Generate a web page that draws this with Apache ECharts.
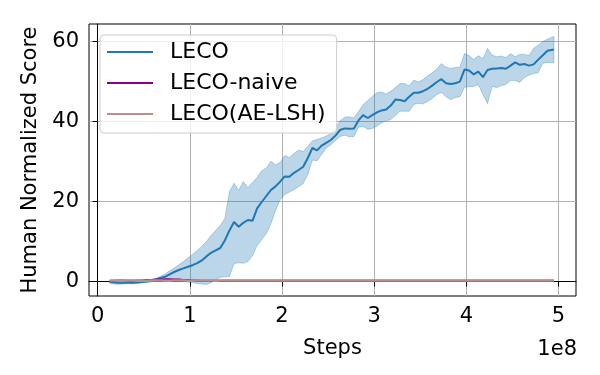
<!DOCTYPE html>
<html>
<head>
<meta charset="utf-8">
<script src="https://cdn.jsdelivr.net/npm/echarts@6/dist/echarts.min.js"></script>
<style>
  html, body { margin: 0; padding: 0; background: #fff; }
  #chart { width: 600px; height: 375px; }
</style>
</head>
<body>
<div id="chart"></div>
<script>
// steps in units of 1e8
const steps = [
  0.13, 0.18, 0.23, 0.28, 0.33, 0.38, 0.43, 0.48, 0.53, 0.58,
  0.63, 0.68, 0.73, 0.78, 0.83, 0.88, 0.93, 0.98, 1.03, 1.08,
  1.13, 1.18, 1.23, 1.28, 1.33, 1.38, 1.43, 1.48, 1.53, 1.58,
  1.63, 1.68, 1.73, 1.78, 1.83, 1.88, 1.93, 1.98, 2.03, 2.08,
  2.13, 2.18, 2.23, 2.28, 2.33, 2.38, 2.43, 2.48, 2.53, 2.58,
  2.63, 2.68, 2.73, 2.78, 2.83, 2.88, 2.93, 2.98, 3.03, 3.08,
  3.13, 3.18, 3.23, 3.28, 3.33, 3.38, 3.43, 3.48, 3.53, 3.58,
  3.63, 3.68, 3.73, 3.78, 3.83, 3.88, 3.93, 3.98, 4.03, 4.08,
  4.13, 4.18, 4.23, 4.28, 4.33, 4.38, 4.43, 4.48, 4.53, 4.58,
  4.63, 4.68, 4.73, 4.78, 4.83, 4.88, 4.95
]

const lecoMean = [
  0.0, -0.2, -0.3, -0.3, -0.2, -0.3, -0.2, -0.1, 0.0, 0.2,
  0.5, 0.9, 1.2, 1.8, 2.4, 2.9, 3.3, 3.7, 4.1, 4.6,
  5.3, 6.3, 7.2, 7.8, 8.4, 10.3, 12.8, 14.9, 13.7, 14.7,
  15.4, 15.2, 18.3, 19.9, 21.4, 22.9, 23.8, 25.0, 26.3, 26.2,
  27.2, 27.9, 28.7, 30.9, 33.4, 32.8, 34.0, 34.7, 35.4, 36.5,
  37.9, 38.3, 38.2, 38.3, 40.3, 41.6, 40.9, 41.6, 42.3, 42.8,
  43.0, 44.0, 45.5, 45.4, 45.1, 46.2, 47.2, 47.2, 47.6, 48.2,
  49.0, 49.9, 50.6, 49.6, 49.4, 49.6, 50.0, 53.0, 52.8, 51.8,
  52.5, 51.1, 52.9, 53.2, 53.3, 53.4, 53.2, 54.0, 54.8, 54.2,
  54.4, 54.0, 54.3, 55.5, 56.6, 57.7, 58.0
]

const lecoUpper = [
  0.2, 0.2, 0.1, 0.1, 0.2, 0.1, 0.2, 0.3, 0.4, 0.5,
  0.8, 1.3, 1.9, 2.7, 3.4, 4.2, 5.0, 5.9, 6.8, 7.8,
  8.8, 10.0, 11.5, 12.8, 14.0, 15.8, 22.5, 24.6, 22.8, 25.0,
  23.5, 24.8, 26.0, 27.7, 28.4, 30.1, 29.2, 29.8, 31.5, 31.0,
  32.0, 32.9, 32.5, 33.8, 35.2, 35.5, 35.9, 36.4, 37.0, 38.3,
  40.2, 41.1, 41.2, 40.9, 42.5, 44.2, 45.3, 46.3, 47.2, 47.4,
  46.9, 47.6, 48.5, 49.5, 49.5, 48.9, 50.4, 49.9, 50.5, 51.4,
  52.2, 53.2, 54.5, 53.6, 53.3, 53.5, 53.6, 57.0, 56.5, 55.5,
  56.5, 55.7, 58.3, 56.6, 56.2, 56.4, 56.0, 57.0, 56.2, 56.8,
  56.8, 56.5, 58.3, 59.1, 60.0, 60.6, 61.3
]

const lecoLower = [
  -0.5, -0.6, -0.7, -0.6, -0.5, -0.6, -0.4, -0.3, -0.2, -0.1,
  0.1, 0.3, 0.3, 0.4, 0.3, 0.2, 0.0, -0.1, -0.2, -0.5,
  -0.6, -0.7, -0.3, 0.4, 1.1, 1.2, 1.3, 4.5, 4.7, 4.6,
  5.0, 6.5, 9.0, 10.5, 12.0, 14.5, 17.8, 20.5, 21.8, 22.4,
  23.0, 23.7, 24.5, 26.8, 30.4, 30.2, 31.8, 33.4, 34.2, 35.3,
  36.3, 36.6, 36.2, 36.3, 38.6, 38.8, 38.1, 38.3, 38.9, 39.7,
  40.2, 40.5, 41.5, 42.6, 42.6, 42.6, 44.3, 44.6, 44.4, 45.0,
  45.8, 46.8, 47.3, 46.2, 45.5, 46.0, 46.2, 48.6, 48.7, 48.8,
  49.3, 46.8, 44.5, 48.8, 48.5, 49.0, 49.3, 50.3, 50.3, 49.8,
  51.0, 51.6, 52.0, 52.2, 54.6, 54.8, 54.7
]

const naiveMean = [
  0.1, 0.2, 0.3, 0.3, 0.2, 0.2, 0.3, 0.3, 0.4, 0.4,
  0.5, 0.5, 0.6, 0.6, 0.5, 0.5, 0.4, 0.4, 0.3, 0.3,
  0.2, 0.2, 0.2, 0.2, 0.2, 0.2, 0.2, 0.2, 0.2, 0.2,
  0.2, 0.2, 0.2, 0.2, 0.2, 0.2, 0.2, 0.2, 0.2, 0.2,
  0.2, 0.2, 0.2, 0.2, 0.2, 0.2, 0.2, 0.2, 0.2, 0.2,
  0.2, 0.2, 0.2, 0.2, 0.2, 0.2, 0.2, 0.2, 0.2, 0.2,
  0.2, 0.2, 0.2, 0.2, 0.2, 0.2, 0.2, 0.2, 0.2, 0.2,
  0.2, 0.2, 0.2, 0.2, 0.2, 0.2, 0.2, 0.2, 0.2, 0.2,
  0.2, 0.2, 0.2, 0.2, 0.2, 0.2, 0.2, 0.2, 0.2, 0.2,
  0.2, 0.2, 0.2, 0.2, 0.2, 0.2, 0.2
]

const aeLshMean = [
  0.3, 0.3, 0.2, 0.2, 0.3, 0.3, 0.2, 0.2, 0.2, 0.3,
  0.3, 0.3, 0.2, 0.2, 0.3, 0.3, 0.3, 0.2, 0.2, 0.3,
  0.3, 0.3, 0.3, 0.2, 0.3, 0.3, 0.3, 0.3, 0.3, 0.3,
  0.3, 0.3, 0.3, 0.3, 0.3, 0.3, 0.3, 0.3, 0.3, 0.3,
  0.3, 0.3, 0.3, 0.3, 0.3, 0.3, 0.3, 0.3, 0.3, 0.3,
  0.3, 0.3, 0.3, 0.3, 0.3, 0.3, 0.3, 0.3, 0.3, 0.3,
  0.3, 0.3, 0.3, 0.3, 0.3, 0.3, 0.3, 0.3, 0.3, 0.3,
  0.3, 0.3, 0.3, 0.3, 0.3, 0.3, 0.3, 0.3, 0.3, 0.3,
  0.3, 0.3, 0.3, 0.3, 0.3, 0.3, 0.3, 0.3, 0.3, 0.3,
  0.3, 0.3, 0.3, 0.3, 0.3, 0.3, 0.3
]

const xTicks = [0, 1, 2, 3, 4, 5]
const yTicks = [0, 20, 40, 60]

const font = 'DejaVu Sans'
const bandColor = 'rgba(31,119,180,0.3)'
const pairs = (ys) => steps.map((x, i) => [x, ys[i]])

const chart = echarts.init(document.getElementById('chart'))
const option = {
  animation: false,
  textStyle: { fontFamily: font },
  grid: {
    left: 89,
    right: 24,
    top: 24,
    bottom: 79,
    show: true,
    borderColor: '#000',
    borderWidth: 1,
    backgroundColor: 'transparent'
  },
  legend: {
    data: ['LECO', 'LECO-naive', 'LECO(AE-LSH)'],
    orient: 'vertical',
    left: 100,
    top: 35,
    icon: 'rect',
    itemWidth: 46,
    itemHeight: 2,
    itemGap: 7,
    padding: [5, 11, 7, 7],
    borderColor: '#cccccc',
    borderWidth: 1,
    borderRadius: 4,
    backgroundColor: 'rgba(255,255,255,0.8)',
    textStyle: {
      fontFamily: font,
      fontSize: 22,
      color: '#000',
      lineHeight: 24,
      padding: [0, 0, 0, 12]
    }
  },
  xAxis: {
    type: 'value',
    min: -0.094,
    max: 5.19,
    name: 'Steps',
    nameLocation: 'middle',
    nameGap: 42,
    nameTextStyle: { fontFamily: font, fontSize: 21, color: '#000' },
    axisLine: { show: true, lineStyle: { color: '#000', width: 1 } },
    axisTick: { show: true, length: 5, lineStyle: { color: '#000' }, customValues: xTicks },
    axisLabel: { fontFamily: font, fontSize: 21, color: '#000', margin: 10, customValues: xTicks },
    splitLine: { show: true, lineStyle: { color: '#b0b0b0', width: 1 } }
  },
  yAxis: {
    type: 'value',
    min: -3.6,
    max: 64.4,
    name: 'Human Normalized Score',
    nameLocation: 'middle',
    nameGap: 43,
    nameTextStyle: { fontFamily: font, fontSize: 21, color: '#000' },
    axisLine: { show: true, lineStyle: { color: '#000', width: 1 } },
    axisTick: { show: true, length: 5, lineStyle: { color: '#000' }, customValues: yTicks },
    axisLabel: { fontFamily: font, fontSize: 21, color: '#000', margin: 10, customValues: yTicks },
    splitLine: { show: true, lineStyle: { color: '#b0b0b0', width: 1 } }
  },
  graphic: [
    {
      type: 'text',
      right: 23,
      top: 339,
      style: { text: '1e8', font: '21px "DejaVu Sans"', fill: '#000' }
    }
  ],
  series: [
    {
      name: 'lecoBand',
      type: 'custom',
      data: [0],
      silent: true,
      z: 1,
      renderItem: (params, api) => {
        const top = steps.map((x, i) => api.coord([x, lecoUpper[i]]))
        const bottom = steps.map((x, i) => api.coord([x, lecoLower[i]])).reverse()
        return {
          type: 'polygon',
          shape: { points: top.concat(bottom) },
          style: { fill: bandColor, stroke: bandColor, lineWidth: 1 }
        }
      }
    },
    {
      name: 'LECO',
      type: 'line',
      data: pairs(lecoMean),
      symbol: 'none',
      color: '#1f77b4',
      lineStyle: { color: '#1f77b4', width: 2 },
      z: 3
    },
    {
      name: 'LECO-naive',
      type: 'line',
      data: pairs(naiveMean),
      symbol: 'none',
      color: '#8b008b',
      lineStyle: { color: '#8b008b', width: 2 },
      z: 4
    },
    {
      name: 'LECO(AE-LSH)',
      type: 'line',
      data: pairs(aeLshMean),
      symbol: 'none',
      color: '#bc8f8f',
      lineStyle: { color: '#bc8f8f', width: 2.5 },
      z: 5
    }
  ]
}
chart.setOption(option)
</script>
</body>
</html>
